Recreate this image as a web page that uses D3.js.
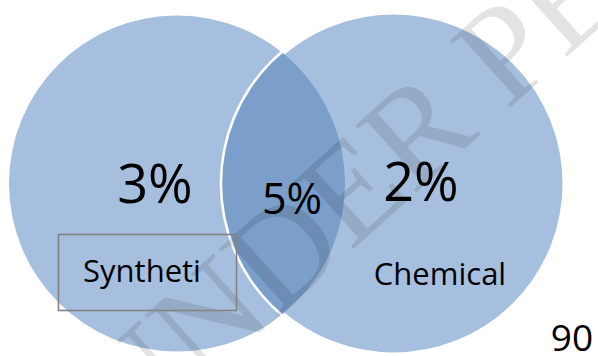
<!DOCTYPE html>
<html>
<head>
<meta charset="utf-8">
<script src="https://cdn.jsdelivr.net/npm/d3@7"></script>
<style>
  html, body { margin: 0; padding: 0; background: #fff; }
  svg { display: block; }
</style>
</head>
<body>
<script>
// venn data
const sets = ["Syntheti", "Chemical"];
const setValues = [3, 2];
const overlapValue = [5];
const pageNumber = ["90"];
const watermark = ["UNDER PEER"];

const width = 598, height = 356;

// circle centres on a 0..1 axis, mapped to pixels
const x = d3.scaleLinear().domain([0, 1]).range([177, 393.6]);
const cy = 183.5;
const radius = [168, 171.4];

const svg = d3.select("body").append("svg")
    .attr("width", width)
    .attr("height", height);

const defs = svg.append("defs");
defs.append("clipPath").attr("id", "clipRight")
  .append("circle")
    .attr("cx", x(1)).attr("cy", cy).attr("r", radius[1]);

// the two sets
svg.selectAll("circle.set")
  .data(sets)
  .enter().append("circle")
    .attr("class", "set")
    .attr("cx", (d, i) => x(i))
    .attr("cy", cy)
    .attr("r", (d, i) => radius[i])
    .attr("fill", "#a7bfde")
    .attr("stroke", (d, i) => i === 1 ? "#ffffff" : "none")
    .attr("stroke-width", 5);

// overlap (lens)
svg.append("g")
    .attr("clip-path", "url(#clipRight)")
  .append("circle")
    .attr("cx", x(0)).attr("cy", cy).attr("r", radius[0])
    .attr("fill", "#7b9ecb");

// faint watermark
svg.append("text")
    .attr("transform", "translate(128,452) rotate(-42)")
    .attr("font-family", "'Liberation Serif', serif")
    .attr("font-size", 138)
    .attr("fill", "#000")
    .attr("fill-opacity", 0.11)
    .text(watermark[0]);

// label box round the first set name
svg.append("rect")
    .attr("x", 58.5).attr("y", 234.5)
    .attr("width", 178).attr("height", 76)
    .attr("fill", "none")
    .attr("stroke", "#828282")
    .attr("stroke-width", 1.6);

const font = "'Open Sans', 'Noto Sans', sans-serif";

// set percentages
svg.selectAll("text.pct")
  .data(setValues)
  .enter().append("text")
    .attr("class", "pct")
    .attr("x", (d, i) => i === 0 ? 155 : 421)
    .attr("y", (d, i) => i === 0 ? 203 : 201)
    .attr("text-anchor", "middle")
    .attr("font-family", font)
    .attr("font-size", 54)
    .attr("fill", "#000")
    .text(d => d + "%");

// overlap percentage
svg.append("text")
    .attr("x", 292).attr("y", 214)
    .attr("text-anchor", "middle")
    .attr("font-family", font)
    .attr("font-size", 43)
    .attr("fill", "#000")
    .text(overlapValue[0] + "%");

// set names
svg.selectAll("text.name")
  .data(sets)
  .enter().append("text")
    .attr("class", "name")
    .attr("x", (d, i) => i === 0 ? 142 : 440)
    .attr("y", (d, i) => i === 0 ? 282 : 285)
    .attr("text-anchor", "middle")
    .attr("font-family", font)
    .attr("font-size", 31)
    .attr("fill", "#000")
    .text(d => d);

// page number
svg.append("text")
    .attr("x", 572).attr("y", 351)
    .attr("text-anchor", "middle")
    .attr("font-family", font)
    .attr("font-size", 37)
    .attr("fill", "#000")
    .text(pageNumber[0]);
</script>
</body>
</html>
